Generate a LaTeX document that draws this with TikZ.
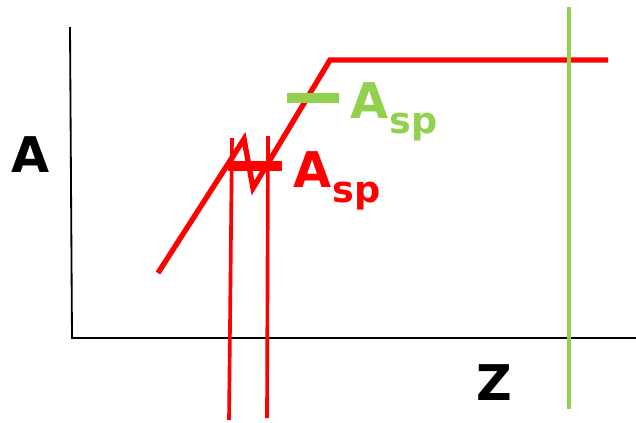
\documentclass[tikz,border=0pt]{standalone}
\usepackage{fontspec}
\setmainfont{DejaVu Sans}
\usepackage{tikz}
\definecolor{hot}{RGB}{255,0,0}
\definecolor{leaf}{RGB}{146,208,80}

\begin{document}
\begin{tikzpicture}[x=0.025cm,y=-0.025cm,
  ax/.style={black,line width=1.3pt},
  curve/.style={hot,line width=3.8pt},
  vline/.style={line width=2.6pt},
  bar/.style={line width=7.8pt},
  lbl/.style={font=\fontsize{35}{35}\selectfont\bfseries,inner sep=0pt,anchor=base west},
  sub/.style={font=\fontsize{26}{26}\selectfont\bfseries,inner sep=0pt,anchor=base west}]
  \useasboundingbox (0,0) rectangle (636,422);
  % axes
  \draw[ax] (70,27) -- (72,338) -- (636,338);
  \node[lbl] (ya) at (11,172) {A};
  \node[lbl] (xz) at (476,400) {Z};
  % red response
  \draw[curve] (158,273) -- (244,139) -- (253,188) -- (330,60) -- (608,60);
  \draw[vline,hot] (232,138) -- (229,420);
  \draw[vline,hot] (268,136) -- (267,418);
  \draw[bar,hot] (228,166) -- (282,166);
  \node[lbl,hot] (ra) at (293,187) {A};
  \node[sub,hot] (rs) at ([shift={(1,15)}]ra.base east) {sp};
  % green set point
  \draw[bar,leaf] (287,98) -- (339,98);
  \draw[vline,leaf] (569,7) -- (569,409);
  \node[lbl,leaf] (ga) at (350,118) {A};
  \node[sub,leaf] (gs) at ([shift={(1,15)}]ga.base east) {sp};
\end{tikzpicture}
\end{document}
